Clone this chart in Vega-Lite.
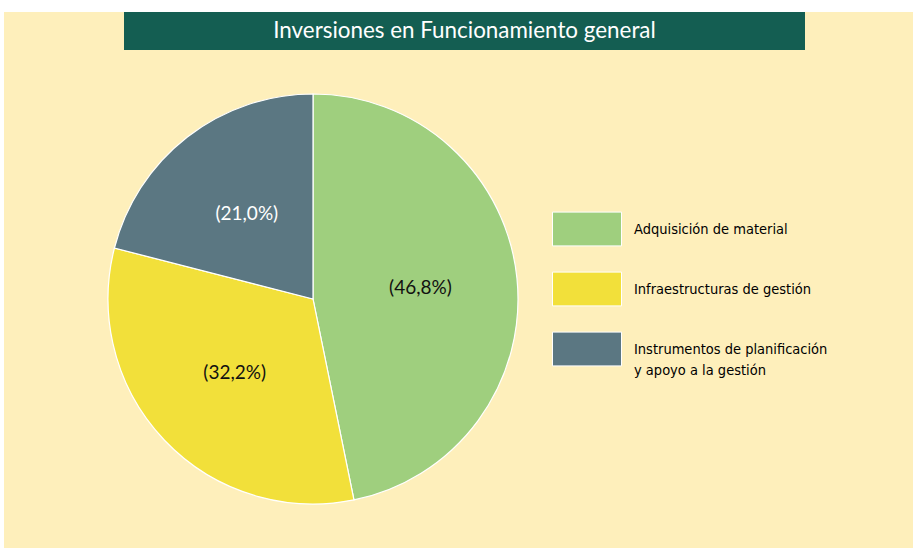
{
  "$schema": "https://vega.github.io/schema/vega-lite/v6.json",
  "background": "#ffffff",
  "padding": {"left": 4, "top": 12, "right": 0, "bottom": 1},
  "spacing": 0,
  "config": {"view": {"stroke": null}, "concat": {"spacing": 0}},
  "datasets": {
    "inv": [
      {"categoria": "Adquisición de material", "pct": 46.8, "etiqueta": "(46,8%)", "orden": 1},
      {"categoria": "Infraestructuras de gestión", "pct": 32.2, "etiqueta": "(32,2%)", "orden": 2},
      {"categoria": "Instrumentos de planificación|y apoyo a la gestión", "pct": 21.0, "etiqueta": "(21,0%)", "orden": 3}
    ]
  },
  "vconcat": [
    {
      "spacing": 0,
      "hconcat": [
        {
          "width": 120, "height": 38,
          "view": {"fill": "#FEEFBB", "stroke": null},
          "data": {"values": [{"t": ""}]},
          "mark": {"type": "text"},
          "encoding": {"text": {"field": "t"}}
        },
        {
          "width": 681, "height": 38,
          "view": {"fill": "#145E52", "stroke": null},
          "data": {"values": [{"t": "Inversiones en Funcionamiento general"}]},
          "mark": {"type": "text", "font": "Lato", "fontSize": 22.4, "color": "#ffffff", "baseline": "middle", "dy": 0},
          "encoding": {"text": {"field": "t"}}
        },
        {
          "width": 108, "height": 38,
          "view": {"fill": "#FEEFBB", "stroke": null},
          "data": {"values": [{"t": ""}]},
          "mark": {"type": "text"},
          "encoding": {"text": {"field": "t"}}
        }
      ]
    },
    {
      "spacing": 0,
      "hconcat": [
        {
          "width": 618, "height": 498,
          "view": {"fill": "#FEEFBB", "stroke": null},
          "data": {"name": "inv"},
          "encoding": {
            "theta": {"field": "pct", "type": "quantitative", "stack": true},
            "order": {"field": "orden", "type": "quantitative"}
          },
          "layer": [
            {
              "mark": {"type": "arc", "outerRadius": 205, "stroke": "#ffffff", "strokeWidth": 1.2},
              "encoding": {
                "color": {
                  "field": "categoria", "type": "nominal",
                  "sort": ["Adquisición de material", "Infraestructuras de gestión", "Instrumentos de planificación|y apoyo a la gestión"],
                  "scale": {
                    "domain": ["Adquisición de material", "Infraestructuras de gestión", "Instrumentos de planificación|y apoyo a la gestión"],
                    "range": ["#9FCF7E", "#F2E03A", "#5B7782"]
                  },
                  "legend": {
                    "title": null,
                    "orient": "none",
                    "legendX": 548,
                    "legendY": 182,
                    "symbolType": "M-1,-0.49H1V0.49H-1Z",
                    "symbolSize": 4761,
                    "symbolStrokeColor": "#ffffff",
                    "symbolStrokeWidth": 1,
                    "symbolOpacity": 1,
                    "rowPadding": 6,
                    "labelFont": "DejaVu Sans Condensed",
                    "labelFontSize": 14.5,
                    "labelColor": "#000000",
                    "labelLimit": 400,
                    "labelOffset": 12,
                    "labelBaseline": "alphabetic",
                    "labelExpr": "split(datum.label, '|')",
                    "encode": {"labels": {"update": {"dy": {"value": 5}, "lineHeight": {"value": 21}}}}
                  }
                }
              }
            },
            {
              "mark": {"type": "text", "font": "Lato", "fontSize": 19, "baseline": "middle"},
              "encoding": {
                "text": {"field": "etiqueta"},
                "radius": {"condition": {"test": "datum.pct < 25", "value": 128}, "value": 108},
                "color": {"condition": {"test": "datum.pct < 25", "value": "#ffffff"}, "value": "#111111"}
              }
            }
          ]
        },
        {
          "width": 291, "height": 498,
          "view": {"fill": "#FEEFBB", "stroke": null},
          "data": {"values": [{"t": ""}]},
          "mark": {"type": "text"},
          "encoding": {"text": {"field": "t"}}
        }
      ]
    }
  ]
}
